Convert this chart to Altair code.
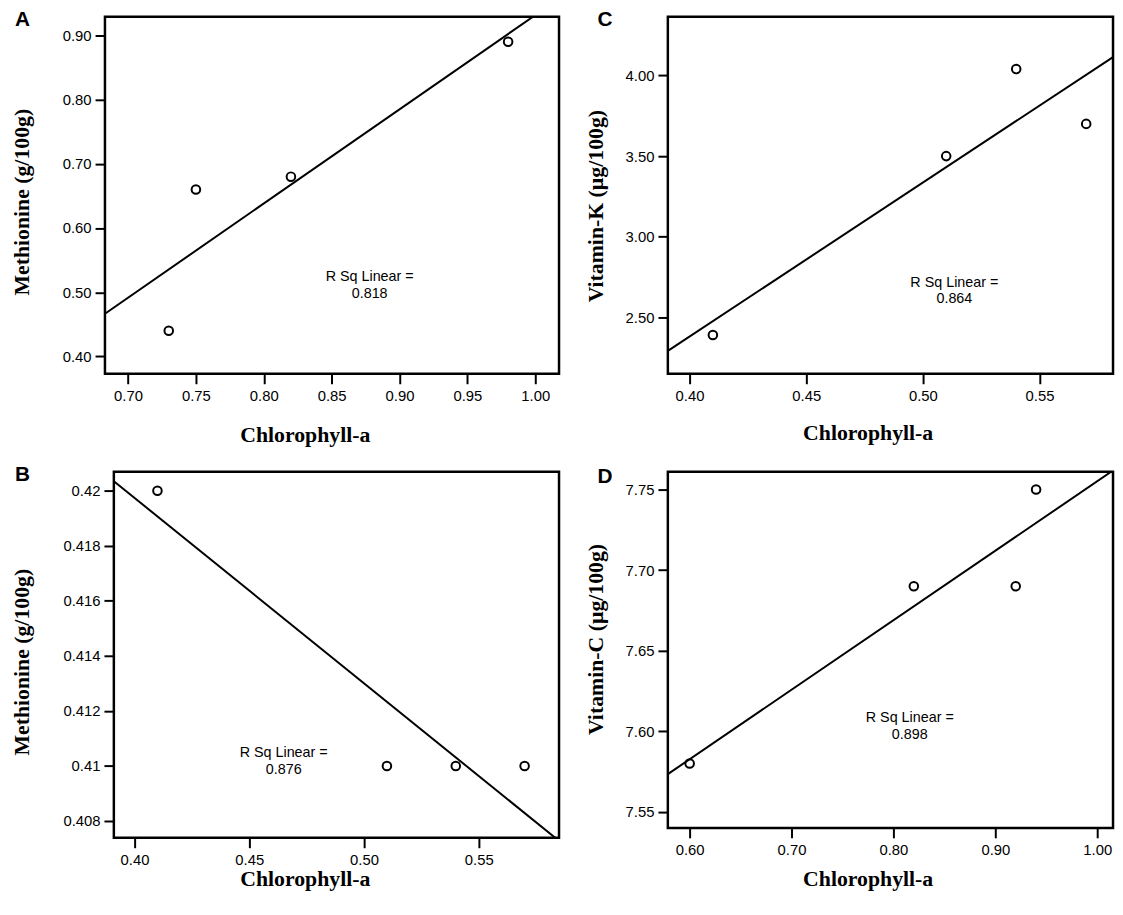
import altair as alt
import pandas as pd

# ---------------- data ----------------
a_chl = [0.73, 0.75, 0.82, 0.98]
a_met = [0.44, 0.66, 0.68, 0.89]

b_chl = [0.41, 0.51, 0.54, 0.57]
b_met = [0.42, 0.41, 0.41, 0.41]

c_chl = [0.41, 0.51, 0.54, 0.57]
c_vitk = [2.39, 3.50, 4.04, 3.70]

d_chl = [0.60, 0.82, 0.92, 0.94]
d_vitc = [7.58, 7.69, 7.69, 7.75]

r2_labels = ["R Sq Linear =\n0.818", "R Sq Linear =\n0.876",
             "R Sq Linear =\n0.864", "R Sq Linear =\n0.898"]
# annotation anchor (data coordinates of the first text line)
r2_x = [0.878, 0.465, 0.5135, 0.816]
r2_y = [0.524, 0.41048, 2.7155, 7.6082]

a_xticks = [0.70, 0.75, 0.80, 0.85, 0.90, 0.95, 1.00]
a_yticks = [0.40, 0.50, 0.60, 0.70, 0.80, 0.90]
b_xticks = [0.40, 0.45, 0.50, 0.55]
b_yticks = [0.408, 0.41, 0.412, 0.414, 0.416, 0.418, 0.42]
c_xticks = [0.40, 0.45, 0.50, 0.55]
c_yticks = [2.50, 3.00, 3.50, 4.00]
d_xticks = [0.60, 0.70, 0.80, 0.90, 1.00]
d_yticks = [7.55, 7.60, 7.65, 7.70, 7.75]

x_title = "Chlorophyll-a"
y_titles = ["Methionine (g/100g)", "Methionine (g/100g)",
            "Vitamin-K (µg/100g)", "Vitamin-C (µg/100g)"]
letters = ["A", "B", "C", "D"]

SERIF = "Liberation Serif"
SANS = "Liberation Sans"
FRAME_W = 2.5


def panel(idx, xs, ys, xdom, ydom, xticks, yticks, yfmt, w, h,
          letter_dx, letter_dy, ytx, yty, xtx, xty, inset=0):
    df = pd.DataFrame({"x": xs, "y": ys})
    xscale = alt.Scale(domain=xdom, nice=False, zero=False)
    if inset:
        xscale = alt.Scale(domain=xdom, nice=False, zero=False,
                           range=[inset, w])
    xaxis = alt.Axis(
        values=xticks, format=".2f", title=x_title,
        titleFont=SERIF, titleFontWeight="bold", titleFontSize=22,
        titleColor="black", titleX=xtx, titleY=xty,
        titleAlign="center", titleBaseline="middle",
        labelFont=SANS, labelFontSize=15, labelColor="black",
        labelPadding=5, labelFlush=False,
        tickSize=10, tickWidth=2, tickColor="black",
        domain=False, grid=False,
    )
    yaxis_kw = dict(
        values=yticks, format=yfmt, title=y_titles[idx],
        titleFont=SERIF, titleFontWeight="bold", titleFontSize=22,
        titleColor="black", titleX=ytx, titleY=yty,
        titleAlign="center", titleBaseline="middle", titleAngle=270,
        labelFont=SANS, labelFontSize=15, labelColor="black",
        labelPadding=4, labelFlush=False,
        tickSize=10, tickWidth=2, tickColor="black",
        domain=False, grid=False,
    )
    if inset:
        yaxis_kw["offset"] = -inset
    yaxis = alt.Axis(**yaxis_kw)
    yscale = alt.Scale(domain=ydom, nice=False, zero=False)

    def X(field):
        return alt.X(field, scale=xscale, axis=xaxis)

    def Y(field):
        return alt.Y(field, scale=yscale, axis=yaxis)

    base = alt.Chart(df)
    layers = []
    if inset:
        fdf = pd.DataFrame({"x0": [xdom[0]], "x1": [xdom[1]],
                            "y0": [ydom[0]], "y1": [ydom[1]]})
        frame = alt.Chart(fdf).mark_rect(
            fillOpacity=0, stroke="black", strokeWidth=FRAME_W).encode(
            x=X("x0:Q"), x2="x1", y=Y("y0:Q"), y2="y1")
        layers.append(frame)
    pts = base.mark_point(shape="circle", filled=False, size=75,
                          strokeWidth=2, color="black", opacity=1).encode(
        x=X("x:Q"), y=Y("y:Q"))
    fit = base.transform_regression("x", "y", extent=xdom).mark_line(
        clip=True, color="black", strokeWidth=2).encode(
        x=X("x:Q"), y=Y("y:Q"))
    tdf = pd.DataFrame({"x": [r2_x[idx]], "y": [r2_y[idx]],
                        "t": [r2_labels[idx]]})
    txt = alt.Chart(tdf).mark_text(
        lineBreak="\n", font=SANS, fontSize=14.5, lineHeight=17,
        align="center", baseline="middle", color="black").encode(
        x=X("x:Q"), y=Y("y:Q"), text="t:N")
    layers += [pts, fit, txt]
    props = dict(
        width=w, height=h,
        title=alt.TitleParams(
            letters[idx], anchor="start", frame="group", orient="top",
            font=SANS, fontSize=21, fontWeight="bold", color="black",
            baseline="alphabetic", offset=0, dx=letter_dx, dy=letter_dy),
    )
    if inset:
        props["view"] = alt.ViewBackground(strokeOpacity=0, strokeWidth=0)
    return alt.layer(*layers).properties(**props)


pa = panel(0, a_chl, a_met, [0.683, 1.0175], [0.373, 0.929],
           a_xticks, a_yticks, ".2f", 459, 361, -91, 30, -84, 187, 202, 61)
# panel B's frame starts 9 px to the right of panel A's
pb = panel(1, b_chl, b_met, [0.391, 0.585], [0.40739, 0.42069],
           b_xticks, b_yticks, ".3~f", 459, 370, -91, 32, -93, 192, 202, 41,
           inset=9)
pc = panel(2, c_chl, c_vitk, [0.3907, 0.5815], [2.149, 4.365],
           c_xticks, c_yticks, ".2f", 450, 361, -71, 30, -73, 191, 202, 59)
pd_ = panel(3, d_chl, d_vitc, [0.5786, 1.0155], [7.540, 7.761],
            d_xticks, d_yticks, ".2f", 450, 360, -71, 32, -73, 169, 202, 51)

chart = alt.concat(pa, pc, pb, pd_, columns=2, align="each",
                   spacing={"row": 17, "column": 22}).properties(
    padding={"left": 1, "top": -6, "right": 0, "bottom": 0},
    background="white",
).configure_view(stroke="black", strokeWidth=FRAME_W)

chart.save("out.html", embed_options={"renderer": "svg", "actions": False})
